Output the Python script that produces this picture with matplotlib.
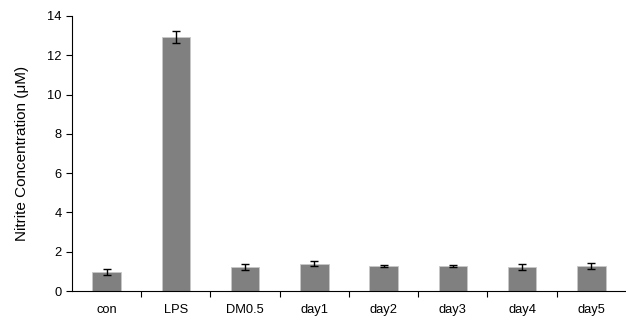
import numpy as np
import matplotlib
matplotlib.use("Agg")
import matplotlib.pyplot as plt

plt.rcParams["font.family"] = ["Liberation Sans", "DejaVu Sans"]

categories = ["con", "LPS", "DM0.5", "day1", "day2", "day3", "day4", "day5"]
values = [0.97, 12.92, 1.22, 1.40, 1.26, 1.26, 1.22, 1.28]
errors = [0.14, 0.30, 0.17, 0.12, 0.05, 0.05, 0.17, 0.17]

fig = plt.figure(figsize=(6.26, 3.2), dpi=100)
ax = fig.add_axes([0.115, 0.0906, 0.885, 0.8594])

x = np.arange(len(categories))
ax.bar(x, values, width=0.41, color="#808080", edgecolor="#c8c8c8", linewidth=0.6)
ax.errorbar(x, values, yerr=errors, fmt="none", ecolor="black",
            elinewidth=1.0, capsize=3, capthick=1.0)

ax.set_xlim(-0.5, 7.5)
ax.set_ylim(0, 14)
ax.set_yticks(range(0, 15, 2))
ax.set_xticks(x)
ax.set_xticklabels(categories, fontsize=9.3)
ax.tick_params(axis="x", length=0, pad=9)
ax.set_xticks(np.arange(0.5, 7.5, 1), minor=True)
ax.tick_params(axis="x", which="minor", length=4, direction="out", width=0.8)
ax.tick_params(axis="y", labelsize=9.3, length=4, width=0.8, direction="out")

ax.spines["top"].set_visible(False)
ax.spines["right"].set_visible(False)
ax.spines["left"].set_linewidth(0.8)
ax.spines["bottom"].set_linewidth(0.8)

ax.set_ylabel("Nitrite Concentration (μM)", fontsize=11, labelpad=13)

fig.savefig("out.png", dpi=100)
